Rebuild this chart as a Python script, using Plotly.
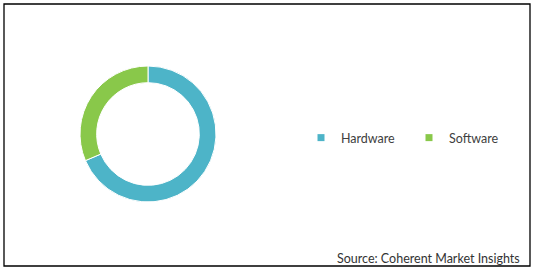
import plotly.graph_objects as go

categories = ["Hardware", "Software"]
values = [68.6, 31.4]
colors = ["#4db4c8", "#89c84a"]
source_text = "Source: Coherent Market Insights"

W, H = 535, 272
FONT = "Lato, 'Open Sans', sans-serif"

fig = go.Figure()
fig.add_trace(go.Pie(
    labels=categories, values=values, sort=False, direction="clockwise",
    rotation=0, hole=0.755, textinfo="none", hoverinfo="label+percent",
    marker=dict(colors=colors, line=dict(color="white", width=1)),
    domain=dict(x=[80 / W, 216 / W], y=[70 / H, 206 / H]),
    showlegend=False,
))
# legend entries with small square swatches
for name, col in zip(categories, colors):
    fig.add_trace(go.Scatter(
        x=[None], y=[None], mode="markers", name=name,
        marker=dict(symbol="square", size=7, color=col),
        showlegend=True, hoverinfo="skip",
    ))

fig.update_layout(
    width=W, height=H, margin=dict(l=0, r=0, t=0, b=0),
    paper_bgcolor="white", plot_bgcolor="white",
    xaxis=dict(visible=False), yaxis=dict(visible=False),
    legend=dict(orientation="h", x=301 / W, xanchor="left", y=(H - 138) / H,
                yanchor="middle", font=dict(family=FONT, size=12.5, color="#404040"),
                entrywidth=63, entrywidthmode="pixels", itemclick=False,
                bgcolor="rgba(0,0,0,0)"),
    shapes=[dict(type="rect", xref="paper", yref="paper",
                 x0=4 / W, x1=530 / W, y0=1 - 266 / H, y1=1 - 4 / H,
                 line=dict(color="black", width=1.3))],
    annotations=[dict(text=source_text, xref="paper", yref="paper",
                      x=522 / W, y=(H - 258) / H, xanchor="right", yanchor="middle",
                      showarrow=False, font=dict(family=FONT, size=12.5, color="#333333"))],
)
fig.write_html("out.html")
